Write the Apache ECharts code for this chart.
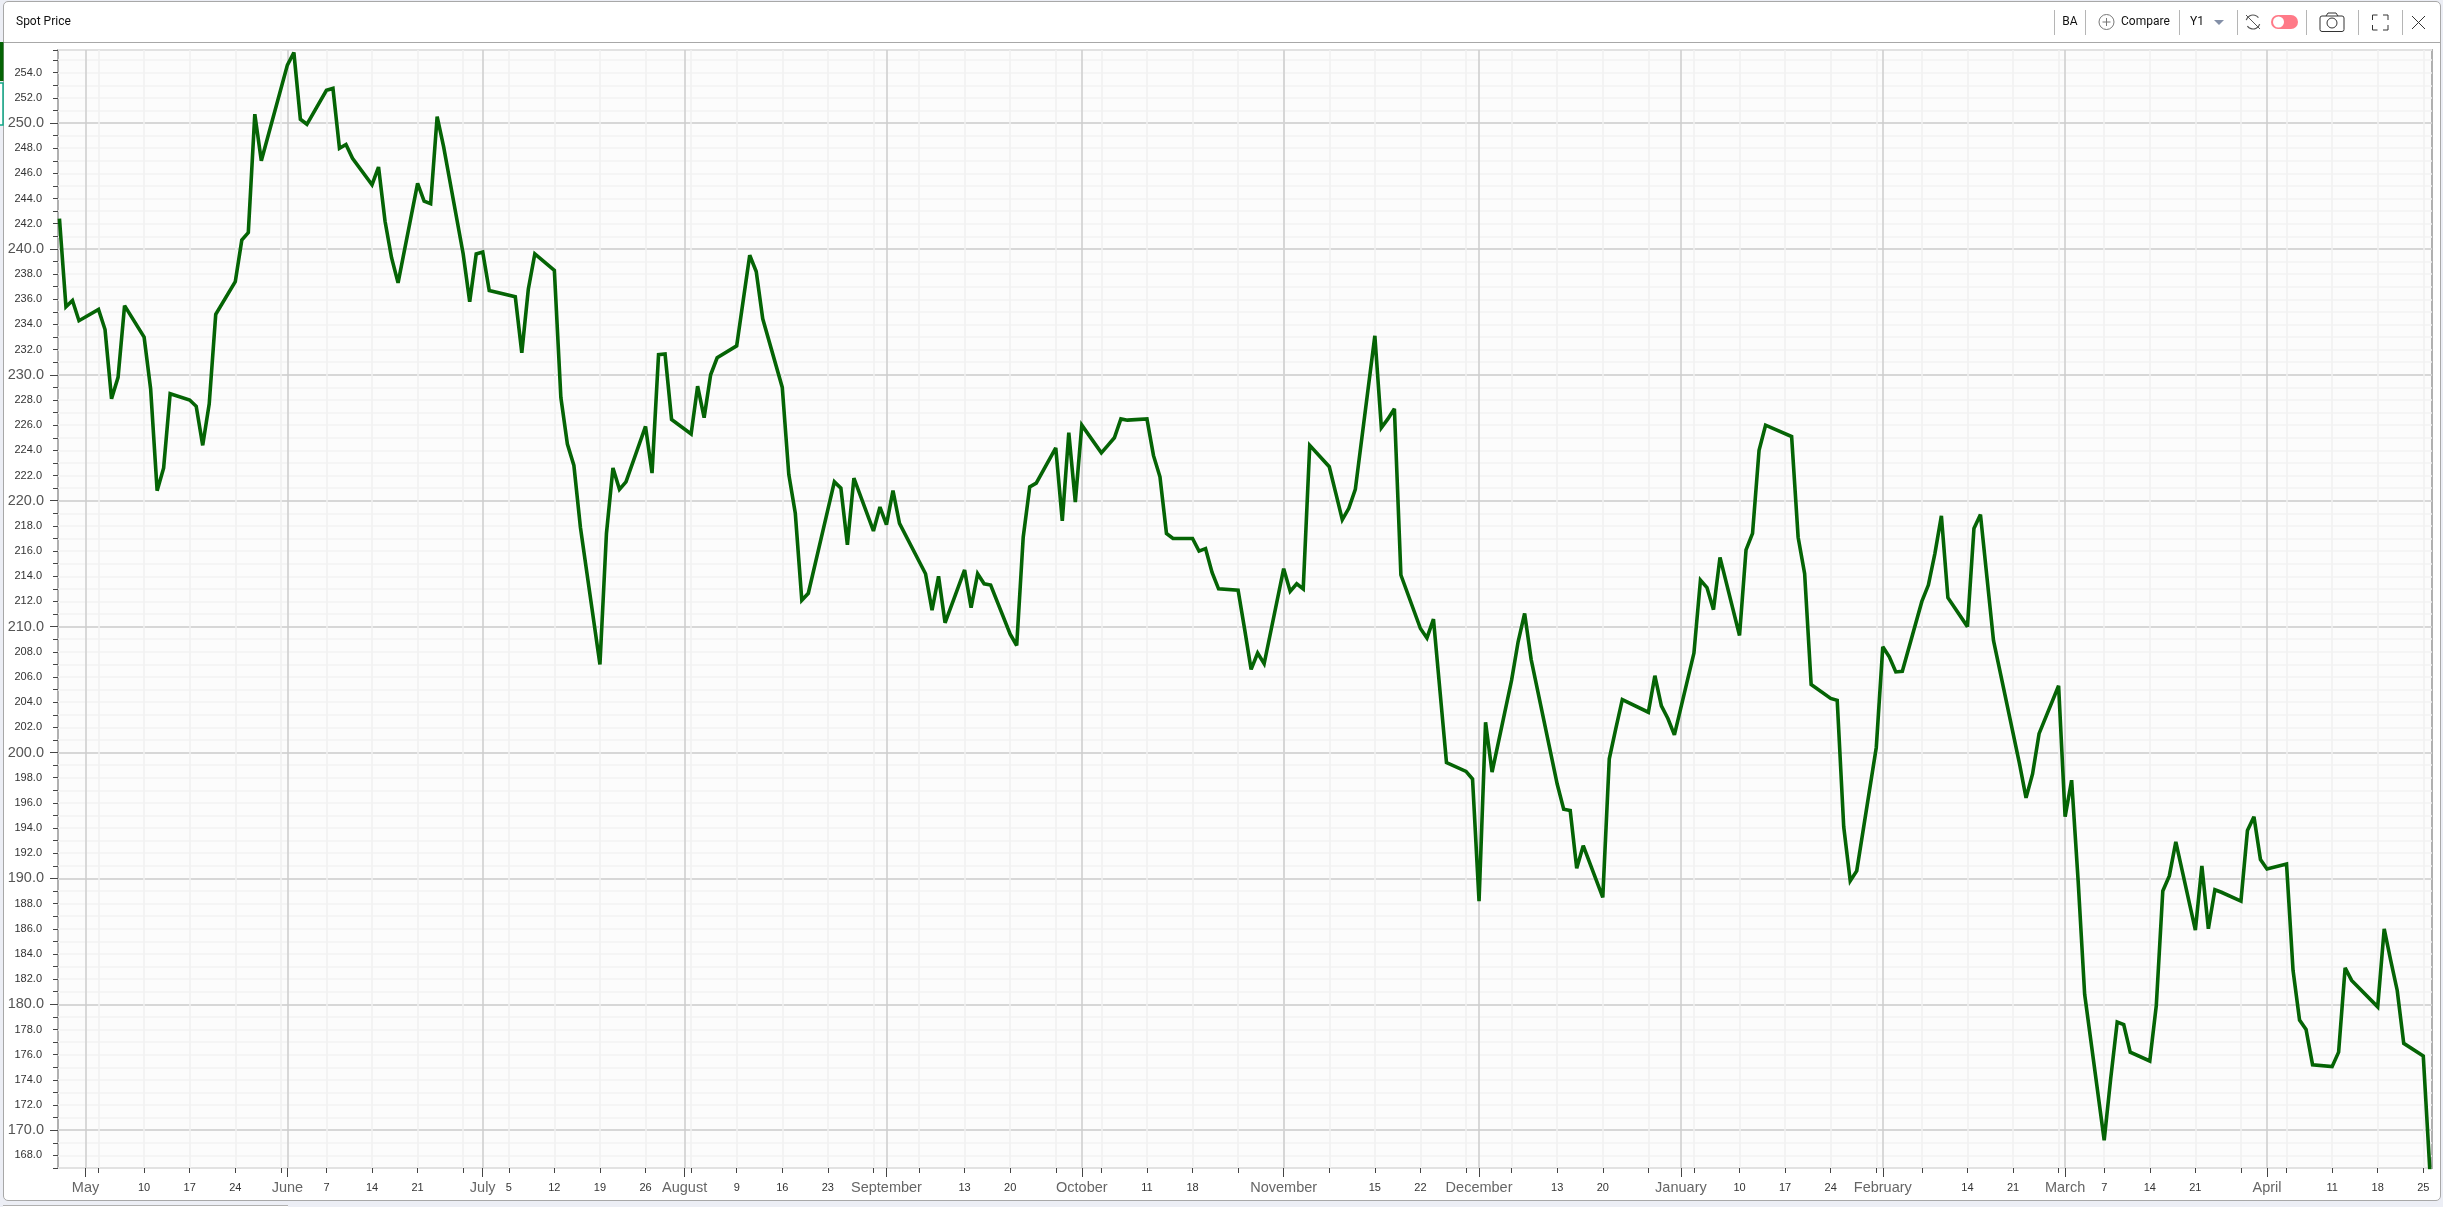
<!DOCTYPE html>
<html>
<head>
<meta charset="utf-8">
<title>Spot Price</title>
<script src="https://cdn.jsdelivr.net/npm/echarts@6/dist/echarts.min.js"></script>
<style>
    html, body { margin: 0; padding: 0; background: #eceef5; overflow: hidden; }
    #card { position: absolute; left: 3px; top: 1px; width: 2436px; height: 1198px; background: #fff;
            border: 1px solid #a8a8a8; border-radius: 5px; }
    #head { position: absolute; left: 3px; top: 42px; width: 2437px; height: 1px; background: #a8a8a8; }
    #next { position: absolute; left: 3px; top: 1205px; width: 285px; height: 2px; background: #fff; border-top: 1px solid #b0b0b0; }
    #main { position: absolute; left: 0; top: 0; width: 2443px; height: 1207px; }
</style>
</head>
<body>
<div id="card"></div>
<div id="head"></div>
<div id="next"></div>
<div id="main"></div>
<script>
var title = 'Spot Price';
var ticker = 'BA';

// BA spot price
var dates = [
    '2021-04-27','2021-04-28','2021-04-29','2021-04-30','2021-05-03','2021-05-04','2021-05-05','2021-05-06','2021-05-07',
    '2021-05-10','2021-05-11','2021-05-12','2021-05-13','2021-05-14','2021-05-17','2021-05-18','2021-05-19','2021-05-20','2021-05-21',
    '2021-05-24','2021-05-25','2021-05-26','2021-05-27','2021-05-28','2021-06-01','2021-06-02','2021-06-03','2021-06-04',
    '2021-06-07','2021-06-08','2021-06-09','2021-06-10','2021-06-11','2021-06-14','2021-06-15','2021-06-16','2021-06-17','2021-06-18',
    '2021-06-21','2021-06-22','2021-06-23','2021-06-24','2021-06-25','2021-06-28','2021-06-29','2021-06-30','2021-07-01','2021-07-02',
    '2021-07-06','2021-07-07','2021-07-08','2021-07-09','2021-07-12','2021-07-13','2021-07-14','2021-07-15','2021-07-16',
    '2021-07-19','2021-07-20','2021-07-21','2021-07-22','2021-07-23','2021-07-26','2021-07-27','2021-07-28','2021-07-29','2021-07-30',
    '2021-08-02','2021-08-03','2021-08-04','2021-08-05','2021-08-06','2021-08-09','2021-08-11','2021-08-12','2021-08-13',
    '2021-08-16','2021-08-17','2021-08-18','2021-08-19','2021-08-20','2021-08-23','2021-08-24','2021-08-25','2021-08-26','2021-08-27',
    '2021-08-30','2021-08-31','2021-09-01','2021-09-02','2021-09-03','2021-09-07','2021-09-08','2021-09-09','2021-09-10',
    '2021-09-13','2021-09-14','2021-09-15','2021-09-16','2021-09-17','2021-09-20','2021-09-21','2021-09-22','2021-09-23','2021-09-24',
    '2021-09-27','2021-09-28','2021-09-29','2021-09-30','2021-10-01','2021-10-04','2021-10-05','2021-10-06','2021-10-07','2021-10-08',
    '2021-10-11','2021-10-12','2021-10-13','2021-10-14','2021-10-15','2021-10-18','2021-10-19','2021-10-20','2021-10-21','2021-10-22',
    '2021-10-25','2021-10-26','2021-10-27','2021-10-28','2021-10-29','2021-11-01','2021-11-02','2021-11-03','2021-11-04','2021-11-05',
    '2021-11-08','2021-11-09','2021-11-10','2021-11-11','2021-11-12','2021-11-15','2021-11-16','2021-11-17','2021-11-18','2021-11-19',
    '2021-11-22','2021-11-23','2021-11-24','2021-11-26','2021-11-29','2021-11-30','2021-12-01','2021-12-02','2021-12-03',
    '2021-12-06','2021-12-07','2021-12-08','2021-12-09','2021-12-13','2021-12-14','2021-12-15','2021-12-16','2021-12-17',
    '2021-12-20','2021-12-21','2021-12-22','2021-12-23','2021-12-27','2021-12-28','2021-12-29','2021-12-30','2021-12-31',
    '2022-01-03','2022-01-04','2022-01-05','2022-01-06','2022-01-07','2022-01-10','2022-01-11','2022-01-12','2022-01-13','2022-01-14',
    '2022-01-18','2022-01-19','2022-01-20','2022-01-21','2022-01-24','2022-01-25','2022-01-26','2022-01-27','2022-01-28',
    '2022-01-31','2022-02-01','2022-02-02','2022-02-03','2022-02-04','2022-02-07','2022-02-08','2022-02-09','2022-02-10','2022-02-11',
    '2022-02-14','2022-02-15','2022-02-16','2022-02-17','2022-02-18','2022-02-22','2022-02-23','2022-02-24','2022-02-25',
    '2022-02-28','2022-03-01','2022-03-02','2022-03-03','2022-03-04','2022-03-07','2022-03-08','2022-03-09','2022-03-10','2022-03-11',
    '2022-03-14','2022-03-15','2022-03-16','2022-03-17','2022-03-18','2022-03-21','2022-03-22','2022-03-23','2022-03-24','2022-03-25',
    '2022-03-28','2022-03-29','2022-03-30','2022-03-31','2022-04-01','2022-04-04','2022-04-05','2022-04-06','2022-04-07','2022-04-08',
    '2022-04-11','2022-04-12','2022-04-13','2022-04-14','2022-04-18','2022-04-19','2022-04-20','2022-04-21','2022-04-22','2022-04-25','2022-04-26'
];
var prices = [
    242.4,235.4,235.9,234.3,235.2,233.6,228.1,229.8,235.5,
    233.0,228.9,220.8,222.6,228.5,228.0,227.5,224.4,227.7,234.8,
    237.4,240.7,241.3,250.7,247.0,254.6,255.6,250.3,249.9,
    252.6,252.75,248.0,248.3,247.2,245.1,246.5,242.2,239.3,237.3,
    245.2,243.8,243.6,250.5,248.1,239.6,235.8,239.6,239.75,236.7,
    236.2,231.75,236.8,239.6,238.3,228.2,224.5,222.8,217.9,
    207.0,217.4,222.6,220.9,221.5,225.9,222.2,231.6,231.65,226.45,
    225.3,229.1,226.6,230.0,231.35,232.3,239.5,238.2,234.45,
    229.0,222.1,219.0,212.1,212.65,219.3,221.5,221.0,216.5,221.8,
    217.6,219.5,218.1,220.8,218.2,214.2,211.3,214.0,210.3,
    214.5,211.5,214.2,213.4,213.3,209.4,208.5,217.1,221.1,221.4,
    224.2,218.4,225.4,219.9,226.0,223.8,224.4,225.0,226.5,226.4,
    226.5,223.6,221.9,217.4,217.0,217.0,216.0,216.2,214.3,213.0,
    212.9,209.8,206.6,207.9,207.05,214.6,212.8,213.4,213.0,224.4,
    222.7,220.6,218.5,219.4,220.9,233.1,225.8,226.5,227.3,214.1,
    209.85,209.1,210.6,199.2,198.5,197.9,188.2,202.4,198.45,
    205.75,208.8,211.05,207.4,197.5,195.5,195.4,190.8,192.6,
    188.5,199.5,201.9,204.2,203.2,206.1,203.7,202.7,201.4,
    207.9,213.7,213.1,211.35,215.5,209.3,216.1,217.4,224.0,226.0,
    225.1,217.1,214.2,205.4,204.3,204.15,194.1,189.8,190.6,
    200.4,208.4,207.6,206.4,206.45,212.0,213.3,215.8,218.8,212.3,
    210.0,217.8,218.9,213.9,208.9,199.1,196.4,198.3,201.5,
    205.3,194.9,197.8,189.8,180.8,169.2,174.1,178.6,178.4,176.2,
    175.5,179.9,189.0,190.2,192.9,185.9,191.0,186.0,189.1,188.9,
    188.2,193.8,194.9,191.5,190.75,191.15,182.7,178.75,178.0,175.2,
    175.05,176.2,182.9,181.9,179.8,186.0,183.5,181.1,176.9,175.9,166.9
];

// tick labels
var monthNames = ['January','February','March','April','May','June','July','August','September','October','November','December'];
var monthTicks = ['2021-05-01','2021-06-01','2021-07-01','2021-08-01','2021-09-01','2021-10-01','2021-11-01','2021-12-01',
    '2022-01-01','2022-02-01','2022-03-01','2022-04-01'];
var weekTicks = ['2021-05-03','2021-05-10','2021-05-17','2021-05-24','2021-05-31','2021-06-07','2021-06-14','2021-06-21','2021-06-28',
    '2021-07-05','2021-07-12','2021-07-19','2021-07-26','2021-08-02','2021-08-09','2021-08-16','2021-08-23','2021-08-30',
    '2021-09-06','2021-09-13','2021-09-20','2021-09-27','2021-10-04','2021-10-11','2021-10-18','2021-10-25',
    '2021-11-01','2021-11-08','2021-11-15','2021-11-22','2021-11-29','2021-12-06','2021-12-13','2021-12-20','2021-12-27',
    '2022-01-03','2022-01-10','2022-01-17','2022-01-24','2022-01-31','2022-02-07','2022-02-14','2022-02-21','2022-02-28',
    '2022-03-07','2022-03-14','2022-03-21','2022-03-28','2022-04-04','2022-04-11','2022-04-18','2022-04-25'];
var weekLabels = ['2021-05-10','2021-05-17','2021-05-24','2021-06-07','2021-06-14','2021-06-21',
    '2021-07-05','2021-07-12','2021-07-19','2021-07-26','2021-08-09','2021-08-16','2021-08-23',
    '2021-09-13','2021-09-20','2021-10-11','2021-10-18','2021-11-15','2021-11-22','2021-12-13','2021-12-20',
    '2022-01-10','2022-01-17','2022-01-24','2022-02-14','2022-02-21','2022-03-07','2022-03-14','2022-03-21',
    '2022-04-11','2022-04-18','2022-04-25'];
var majorPrices = [170,180,190,200,210,220,230,240,250];
var minorPrices = [168,172,174,176,178,182,184,186,188,192,194,196,198,202,204,206,208,212,214,216,218,222,224,226,228,
    232,234,236,238,242,244,246,248,252,254];

var xMin = '2021-04-26T18:39';
var xMax = '2022-04-26T08:10';
var yMin = 167;
var yMax = 255.8;

var font = '"Liberation Sans", Arial, sans-serif';
var uiFont = 'Roboto, sans-serif';
var green = '#056405';

// 日期转时间戳 (UTC), x 轴用数值轴画
function ts(s) {
    return Date.parse(s.length > 10 ? s + ':00Z' : s + 'T00:00:00Z');
}

function priceLabel(v) {
    return v.toFixed(1);
}

function line(x1, y1, x2, y2, color, width) {
    return { type: 'line', silent: true, shape: { x1: x1, y1: y1, x2: x2, y2: y2 },
        style: { stroke: color || '#b5b5b5', lineWidth: width || 1 } };
}

function label(text, x, y, align, size) {
    return { type: 'text', silent: true, x: x, y: y,
        style: { text: text, fill: '#111', font: (size || 12) + 'px ' + uiFont, align: align || 'left', verticalAlign: 'middle' } };
}

// 顶部工具栏
function toolbar() {
    var items = [];
    [2054.5, 2085.5, 2179.5, 2237.5, 2306.5, 2358.5, 2402.5].forEach(function (x) {
        items.push(line(x, 10, x, 35));
    });
    items.push(label(title, 16, 22, 'left', 12));
    items.push(label(ticker, 2070, 22, 'center', 12));
    items.push({ type: 'circle', silent: true, shape: { cx: 2106.5, cy: 22, r: 7.5 }, style: { fill: '#fff', stroke: '#777' } });
    items.push(line(2102.5, 22, 2110.5, 22, '#777'));
    items.push(line(2106.5, 18, 2106.5, 26, '#777'));
    items.push(label('Compare', 2121, 22, 'left', 12));
    items.push(label('Y1', 2190, 22, 'left', 12));
    items.push({ type: 'polygon', silent: true, shape: { points: [[2214, 20], [2224, 20], [2219, 25]] }, style: { fill: '#8490a8' } });
    // sync icon
    items.push({ type: 'arc', silent: true, shape: { cx: 2253, cy: 22, r: 7, startAngle: 3.4, endAngle: 5.6 }, style: { stroke: '#555', fill: 'none', lineWidth: 1.2 } });
    items.push({ type: 'arc', silent: true, shape: { cx: 2253, cy: 22, r: 7, startAngle: 0.3, endAngle: 2.5 }, style: { stroke: '#555', fill: 'none', lineWidth: 1.2 } });
    items.push(line(2246, 15, 2260, 29, '#555'));
    // toggle
    items.push({ type: 'rect', silent: true, shape: { x: 2271, y: 15, width: 27, height: 14, r: 7 }, style: { fill: '#ff7a88' } });
    items.push({ type: 'circle', silent: true, shape: { cx: 2278.5, cy: 22, r: 5.5 }, style: { fill: '#fff' } });
    // camera
    items.push({ type: 'rect', silent: true, shape: { x: 2320, y: 16, width: 24, height: 15.5, r: 2 }, style: { fill: '#fff', stroke: '#333' } });
    items.push(line(2326, 16, 2328, 13, '#333'));
    items.push(line(2328, 13, 2336, 13, '#333'));
    items.push(line(2336, 13, 2338, 16, '#333'));
    items.push({ type: 'circle', silent: true, shape: { cx: 2332, cy: 23, r: 5 }, style: { fill: '#fff', stroke: '#333' } });
    // fullscreen corners
    [[2372.5, 15, 1, 1], [2388, 15, -1, 1], [2372.5, 30, 1, -1], [2388, 30, -1, -1]].forEach(function (c) {
        items.push(line(c[0], c[1], c[0] + 5 * c[2], c[1], '#333'));
        items.push(line(c[0], c[1], c[0], c[1] + 5 * c[3], '#333'));
    });
    // close
    items.push(line(2412, 16, 2425, 29, '#333'));
    items.push(line(2425, 16, 2412, 29, '#333'));
    // left colour markers
    items.push({ type: 'rect', silent: true, shape: { x: 0, y: 42, width: 3.5, height: 39 }, style: { fill: green } });
    items.push({ type: 'rect', silent: true, shape: { x: -2, y: 83, width: 5, height: 42 }, style: { fill: '#fff', stroke: '#10a888', lineWidth: 1.5 } });
    return items;
}

var myChart = echarts.init(document.getElementById('main'));

var option = {
    animation: false,
    backgroundColor: 'transparent',
    grid: {
        left: 58,
        top: 50,
        right: 11,
        bottom: 39,
        show: true,
        backgroundColor: '#fcfcfc',
        borderColor: '#b0b0b0',
        borderWidth: 2
    },
    xAxis: [
        {
            type: 'value',
            position: 'bottom',
            min: ts(xMin),
            max: ts(xMax),
            axisLine: { show: false },
            axisTick: { length: 5, customValues: weekTicks.map(ts), lineStyle: { color: '#444' } },
            axisLabel: {
                customValues: weekLabels.map(ts),
                margin: 14,
                color: '#333',
                fontSize: 11,
                fontFamily: font,
                formatter: function (v) { return String(new Date(v).getUTCDate()); }
            },
            splitLine: { show: true, lineStyle: { color: '#f0f0f0', width: 1.5 } }
        },
        {
            type: 'value',
            position: 'bottom',
            min: ts(xMin),
            max: ts(xMax),
            axisLine: { show: false },
            axisTick: { length: 9, customValues: monthTicks.map(ts), lineStyle: { color: '#444' } },
            axisLabel: {
                customValues: monthTicks.map(ts),
                margin: 12,
                color: '#666',
                fontSize: 14.5,
                fontFamily: font,
                formatter: function (v) { return monthNames[new Date(v).getUTCMonth()]; }
            },
            splitLine: { show: true, lineStyle: { color: '#cccccc', width: 1.5 } }
        }
    ],
    yAxis: [
        {
            type: 'value',
            position: 'left',
            min: yMin,
            max: yMax,
            interval: 1,
            axisLine: { show: false },
            axisTick: { length: 5, lineStyle: { color: '#444' } },
            axisLabel: {
                customValues: minorPrices,
                margin: 16,
                color: '#333',
                fontSize: 11,
                fontFamily: font,
                formatter: priceLabel
            },
            splitLine: { show: true, lineStyle: { color: '#f3f3f3', width: 1.5 } }
        },
        {
            type: 'value',
            position: 'left',
            min: yMin,
            max: yMax,
            axisLine: { show: false },
            axisTick: { length: 8, customValues: majorPrices, lineStyle: { color: '#444' } },
            axisLabel: {
                customValues: majorPrices,
                margin: 14,
                color: '#555',
                fontSize: 14.5,
                fontFamily: font,
                formatter: priceLabel
            },
            splitLine: { show: true, lineStyle: { color: '#cccccc', width: 1.5 } }
        }
    ],
    series: [
        {
            name: ticker,
            type: 'line',
            showSymbol: false,
            symbol: 'none',
            z: 5,
            lineStyle: { color: green, width: 3.6, join: 'miter', miterLimit: 3 },
            data: dates.map(function (d, i) { return [ts(d), prices[i]]; })
        }
    ],
    graphic: toolbar()
};

myChart.setOption(option);
</script>
</body>
</html>
